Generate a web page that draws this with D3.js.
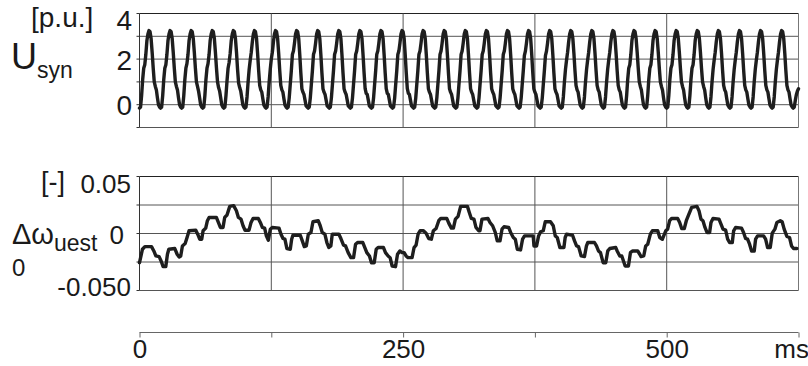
<!DOCTYPE html>
<html><head><meta charset="utf-8">
<script src="https://cdn.jsdelivr.net/npm/d3@7"></script>
<style>
body{margin:0;background:#fff}
text{font-family:"Liberation Sans",Arial,Helvetica,sans-serif;fill:#1a1a1a}
</style>
</head><body><svg id="c" width="808" height="366"></svg>
<script>
// ---------------- data ----------------
const timeDomainMs = [0, 625];
const timeTicks = [0, 125, 250, 375, 500, 625];
const timeTickLabels = ["0", "", "250", "", "500", "ms"];

// U_syn sampled every 1 ms from t = 0 (one row = one 20 ms cycle)
const usynStepMs = 1;
const usynValues = [
-0.15,-0.1,0.4,1.1,1.6,1.75,2.2,2.8,3.1,3.25,3.2,2.9,2.3,1.6,1.0,0.8,0.65,0.3,0.0,-0.1,
-0.15,-0.1,0.4,1.1,1.6,1.75,2.2,2.8,3.1,3.25,3.2,2.9,2.3,1.6,1.0,0.8,0.65,0.3,0.0,-0.1,
-0.15,-0.1,0.4,1.1,1.6,1.8,2.2,2.8,3.1,3.25,3.2,2.9,2.3,1.6,1.0,0.8,0.6,0.3,0.0,-0.1,
-0.15,-0.1,0.4,1.1,1.6,1.8,2.2,2.8,3.1,3.25,3.2,2.9,2.3,1.6,1.0,0.75,0.6,0.3,0.0,-0.1,
-0.15,-0.1,0.4,1.05,1.6,1.85,2.25,2.8,3.1,3.25,3.2,2.9,2.3,1.55,0.95,0.75,0.6,0.3,0.0,-0.1,
-0.15,-0.1,0.35,1.0,1.55,1.95,2.3,2.75,3.1,3.25,3.2,2.9,2.25,1.5,0.85,0.65,0.55,0.25,-0.02,-0.1,
-0.15,-0.1,0.35,1.0,1.55,2.0,2.3,2.75,3.1,3.25,3.2,2.9,2.25,1.5,0.85,0.65,0.55,0.25,-0.02,-0.1,
-0.15,-0.1,0.3,0.9,1.5,2.2,2.35,2.7,3.1,3.25,3.2,2.9,2.2,1.4,0.7,0.55,0.45,0.2,-0.05,-0.1,
-0.15,-0.1,0.3,0.9,1.5,2.2,2.35,2.7,3.1,3.25,3.2,2.9,2.2,1.4,0.7,0.55,0.45,0.2,-0.05,-0.1,
-0.15,-0.1,0.3,0.9,1.5,2.2,2.35,2.7,3.1,3.25,3.2,2.9,2.2,1.4,0.7,0.55,0.45,0.2,-0.05,-0.1,
-0.15,-0.1,0.3,0.9,1.5,2.2,2.35,2.7,3.1,3.25,3.2,2.9,2.2,1.4,0.7,0.5,0.45,0.2,-0.05,-0.1,
-0.15,-0.1,0.3,0.9,1.5,2.2,2.35,2.7,3.1,3.25,3.2,2.9,2.2,1.4,0.7,0.5,0.45,0.2,-0.05,-0.1,
-0.15,-0.1,0.3,0.9,1.5,2.2,2.35,2.7,3.1,3.25,3.2,2.9,2.2,1.4,0.7,0.5,0.45,0.2,-0.05,-0.1,
-0.15,-0.1,0.3,0.9,1.5,2.2,2.35,2.7,3.1,3.25,3.2,2.9,2.2,1.4,0.7,0.55,0.45,0.2,-0.05,-0.1,
-0.15,-0.1,0.3,0.9,1.5,2.2,2.35,2.7,3.1,3.25,3.2,2.9,2.2,1.4,0.7,0.55,0.45,0.2,-0.05,-0.1,
-0.15,-0.1,0.3,0.9,1.5,2.2,2.35,2.7,3.1,3.25,3.2,2.9,2.2,1.4,0.7,0.55,0.45,0.2,-0.05,-0.1,
-0.15,-0.1,0.3,0.9,1.5,2.2,2.35,2.7,3.1,3.25,3.2,2.9,2.2,1.4,0.7,0.55,0.45,0.2,-0.05,-0.1,
-0.15,-0.1,0.3,0.9,1.5,2.2,2.35,2.7,3.1,3.25,3.2,2.9,2.2,1.4,0.7,0.55,0.45,0.2,-0.05,-0.1,
-0.15,-0.1,0.3,0.9,1.5,2.15,2.35,2.7,3.1,3.25,3.2,2.9,2.2,1.4,0.7,0.55,0.45,0.2,-0.05,-0.1,
-0.15,-0.1,0.3,0.9,1.5,2.15,2.35,2.7,3.1,3.25,3.2,2.9,2.2,1.4,0.7,0.55,0.45,0.2,-0.05,-0.1,
-0.15,-0.1,0.35,1.0,1.55,1.95,2.3,2.75,3.1,3.25,3.2,2.9,2.25,1.5,0.85,0.65,0.55,0.25,-0.02,-0.1,
-0.15,-0.1,0.35,1.0,1.55,1.95,2.3,2.75,3.1,3.25,3.2,2.9,2.25,1.5,0.85,0.65,0.55,0.25,-0.02,-0.1,
-0.15,-0.1,0.35,1.0,1.55,1.95,2.3,2.75,3.1,3.25,3.2,2.9,2.25,1.5,0.85,0.65,0.55,0.25,-0.02,-0.1,
-0.15,-0.1,0.4,1.1,1.6,1.75,2.2,2.8,3.1,3.25,3.2,2.9,2.3,1.6,1.0,0.8,0.65,0.3,0.0,-0.1,
-0.15,-0.1,0.4,1.1,1.6,1.75,2.2,2.8,3.1,3.25,3.2,2.9,2.3,1.6,1.0,0.8,0.65,0.3,0.0,-0.1,
-0.15,-0.1,0.4,1.1,1.6,1.75,2.2,2.8,3.1,3.25,3.2,2.9,2.3,1.6,1.0,0.8,0.65,0.3,0.0,-0.1,
-0.15,-0.1,0.4,1.1,1.6,1.75,2.2,2.8,3.1,3.25,3.2,2.9,2.3,1.6,1.0,0.8,0.65,0.3,0.0,-0.1,
-0.15,-0.1,0.35,1.0,1.55,1.95,2.3,2.75,3.1,3.25,3.2,2.9,2.25,1.5,0.85,0.65,0.55,0.25,-0.02,-0.1,
-0.15,-0.1,0.35,1.0,1.55,1.95,2.3,2.75,3.1,3.25,3.2,2.9,2.25,1.5,0.85,0.65,0.55,0.25,-0.02,-0.1,
-0.15,-0.1,0.35,1.0,1.55,1.95,2.3,2.75,3.1,3.25,3.2,2.9,2.25,1.5,0.85,0.65,0.55,0.25,-0.02,-0.1,
-0.15,-0.1,0.35,1.0,1.55,1.95,2.3,2.75,3.1,3.25,3.2,2.9,2.25,1.5,0.85,0.65,0.55,0.25,-0.02,-0.1,
-0.15,-0.1,0.2,0.45,0.6,0.7
];
const usynGrid = [4, 3, 2, 1, 0, -1];
const usynTickValues = [4, 2, 0];
const usynTickLabels = ["4", "2", "0"];

// Δω_uest polyline vertices (time in ms, value in p.u.)
const domegaTimeMs = [
0,2.8,5.1,11.4,13.6,15.5,18.6,20.5,22.4,24.9,26.5,27.8,33.5,35.7,37.6,39.1,40.7,43.3,45.1,47.0,
53.4,55.2,57.1,59.0,60.3,62.8,64.4,66.0,72.9,74.8,76.7,79.2,80.8,83.0,85.6,89.3,91.9,93.8,96.3,98.2,
100.1,103.9,105.8,107.7,112.7,114.6,116.5,118.7,120.3,122.2,124.1,125.9,132.3,134.2,136.1,137.9,139.8,143.0,144.3,145.5,
152.5,154.4,156.3,158.2,160.1,162.6,164.5,169.5,171.4,173.3,175.8,177.7,179.6,181.5,182.8,189.1,191.0,193.5,195.4,197.9,
200.5,203.0,204.9,206.8,211.8,213.7,215.6,218.1,220.0,222.6,224.5,226.3,231.4,233.3,235.8,237.7,239.6,242.8,244.7,246.9,
249.0,251.0,252.8,254.7,258.5,260.4,262.3,264.2,266.1,269.3,271.8,274.3,276.8,278.7,281.3,283.8,285.7,291.4,293.3,295.8,
297.7,299.6,302.1,304.6,311.0,312.8,314.7,317.2,319.1,321.7,322.9,324.8,330.5,332.4,334.9,337.4,339.3,341.9,343.8,345.7,
350.1,352.0,354.5,356.4,358.3,361.4,363.3,365.2,373.4,374.1,376.6,378.5,380.4,382.9,384.8,389.8,392.4,394.3,396.2,398.7,
402.5,403.7,405.0,410.7,412.6,414.5,416.4,418.9,422.0,423.9,425.2,431.5,433.4,435.3,437.2,439.7,442.2,444.1,446.0,451.7,
453.0,455.5,457.4,460.6,463.7,465.6,467.5,472.5,474.4,475.7,478.2,480.1,482.0,484.5,486.4,491.5,493.4,495.9,499.1,500.9,
502.8,504.7,510.4,512.3,514.2,516.7,518.6,520.5,523.7,528.7,530.6,532.5,534.4,536.3,538.2,540.7,542.0,543.9,549.6,551.5,
553.4,555.9,557.8,559.7,562.2,563.5,565.4,571.0,572.9,574.8,576.7,578.6,580.5,583.0,584.3,586.2,591.9,593.8,595.7,598.2,
600.1,602.6,604.5,607.7,609.5,611.4,614.0,616.5,618.4,620.3,623.4
];
const domegaValues = [
-0.0256,-0.0138,-0.0115,-0.0115,-0.0153,-0.0197,-0.0203,-0.0241,-0.0291,-0.0291,-0.0182,-0.0138,-0.0132,-0.0182,-0.0206,-0.0197,-0.0109,-0.0088,-0.0035,0.0024,
0.0029,-0.0006,-0.0050,-0.0050,0.0024,0.0047,0.0112,0.0141,0.0141,0.0097,0.0053,0.0053,0.0141,0.0162,0.0238,0.0244,0.0200,0.0141,0.0126,0.0068,
0.0029,0.0029,0.0097,0.0132,0.0132,0.0097,0.0053,0.0047,-0.0021,-0.0059,0.0038,0.0053,0.0047,-0.0006,-0.0044,-0.0050,-0.0132,-0.0138,-0.0050,-0.0015,
-0.0015,-0.0065,-0.0115,-0.0109,-0.0006,0.0009,0.0103,0.0112,0.0068,0.0009,-0.0006,-0.0079,-0.0123,-0.0109,-0.0006,-0.0006,-0.0044,-0.0103,-0.0109,-0.0168,
-0.0212,-0.0212,-0.0094,-0.0079,-0.0079,-0.0123,-0.0168,-0.0197,-0.0256,-0.0256,-0.0138,-0.0123,-0.0123,-0.0168,-0.0197,-0.0212,-0.0285,-0.0291,-0.0182,-0.0153,
-0.0168,-0.0168,-0.0197,-0.0212,-0.0212,-0.0123,-0.0103,-0.0006,0.0024,0.0024,0.0003,-0.0044,-0.0050,0.0024,0.0044,0.0112,0.0132,0.0132,0.0091,0.0047,
0.0047,0.0126,0.0150,0.0238,0.0238,0.0185,0.0132,0.0126,0.0053,0.0024,0.0024,0.0126,0.0132,0.0097,0.0068,0.0009,-0.0065,-0.0065,0.0038,0.0059,
0.0053,0.0009,-0.0035,-0.0050,-0.0138,-0.0144,-0.0050,-0.0021,-0.0021,-0.0109,-0.0109,-0.0021,0.0015,0.0024,0.0103,0.0103,0.0068,-0.0021,-0.0035,-0.0123,
-0.0123,-0.0035,-0.0006,-0.0015,-0.0065,-0.0109,-0.0115,-0.0197,-0.0203,-0.0109,-0.0079,-0.0079,-0.0109,-0.0153,-0.0168,-0.0256,-0.0256,-0.0153,-0.0132,-0.0123,
-0.0153,-0.0197,-0.0197,-0.0285,-0.0285,-0.0168,-0.0153,-0.0153,-0.0182,-0.0203,-0.0197,-0.0109,-0.0094,-0.0006,0.0024,0.0024,-0.0035,-0.0050,0.0024,0.0038,
0.0112,0.0132,0.0132,0.0097,0.0044,0.0044,0.0112,0.0156,0.0229,0.0238,0.0200,0.0126,0.0112,0.0053,0.0009,0.0009,0.0097,0.0132,0.0126,0.0082,
0.0038,0.0029,-0.0050,-0.0079,-0.0079,0.0024,0.0053,0.0047,0.0009,-0.0044,-0.0050,-0.0094,-0.0153,-0.0153,-0.0050,-0.0021,-0.0021,-0.0050,-0.0123,-0.0123,
0.0003,0.0038,0.0097,0.0112,0.0103,0.0038,-0.0026,-0.0035,-0.0109,-0.0132,-0.0132
];
const domegaGrid = [0.05, 0.025, 0, -0.025, -0.05];
const domegaTickValues = [0.05, 0, -0.05];
const domegaTickLabels = ["0.05", "0", "-0.050"];

// ---------------- drawing ----------------
const svg = d3.select("#c");
const x = d3.scaleLinear().domain(timeDomainMs).range([139.5, 798.5]);
const yTop = d3.scaleLinear().domain([-1, 4]).range([127.5, 13.5]);
const yBot = d3.scaleLinear().domain([-0.05, 0.05]).range([290.5, 176.5]);
const gridColor = "#555";
const gridX = timeTicks.slice(1, -1);

function panel(y, gridVals) {
  const g = svg.append("g");
  g.selectAll("line.h").data(gridVals).join("line")
    .attr("x1", x.range()[0]).attr("x2", x.range()[1])
    .attr("y1", d => y(d)).attr("y2", d => y(d))
    .attr("stroke", (d, i) => i === 0 ? "#222" : gridColor).attr("stroke-width", 1);
  g.selectAll("line.v").data(gridX).join("line")
    .attr("x1", d => x(d)).attr("x2", d => x(d))
    .attr("y1", y.range()[1]).attr("y2", y.range()[0])
    .attr("stroke", gridColor).attr("stroke-width", 1);
  [x.range()[0], x.range()[1]].forEach((xx, i) => {
    g.append("line").attr("x1", xx).attr("x2", xx)
      .attr("y1", y.range()[1]).attr("y2", y.range()[0])
      .attr("stroke", i === 0 ? "#333" : "#777").attr("stroke-width", 1);
  });
  g.selectAll("line.t").data(gridVals).join("line")
    .attr("x1", x.range()[0] - 3).attr("x2", x.range()[0])
    .attr("y1", d => y(d)).attr("y2", d => y(d))
    .attr("stroke", "#333");
  return g;
}

panel(yTop, usynGrid);
panel(yBot, domegaGrid);

function clampY(y, v) {
  const top = y.range()[1], bot = y.range()[0];
  return Math.max(top + 6, Math.min(bot - 5, y(v)));
}

svg.selectAll("text.tt").data(usynTickValues).join("text")
  .attr("x", 132).attr("y", d => clampY(yTop, d) + 1)
  .attr("text-anchor", "end").attr("dominant-baseline", "central")
  .attr("font-size", 28).text((d, i) => usynTickLabels[i]);

svg.selectAll("text.tb").data(domegaTickValues).join("text")
  .attr("x", (d) => d === 0 ? 124 : 131).attr("y", d => clampY(yBot, d) + 1)
  .attr("text-anchor", "end").attr("dominant-baseline", "central")
  .attr("font-size", 26).text((d, i) => domegaTickLabels[i]);

svg.append("text").attr("x", 31).attr("y", 27).attr("font-size", 28).text("[p.u.]");
const u = svg.append("text").attr("x", 11).attr("y", 69).attr("font-size", 36);
u.append("tspan").text("U");
u.append("tspan").attr("font-size", 23).attr("dy", 9).text("syn");

svg.append("text").attr("x", 41).attr("y", 191).attr("font-size", 27).text("[-]");
const w = svg.append("text").attr("x", 12).attr("y", 244).attr("font-size", 29);
w.append("tspan").text("Δω");
w.append("tspan").attr("font-size", 23).attr("dy", 7).text("uest");
svg.append("text").attr("x", 12).attr("y", 276).attr("font-size", 24).text("0");

const usynLine = d3.line().x((d, i) => x(i * usynStepMs)).y(d => yTop(d));
svg.append("path").datum(usynValues).attr("d", usynLine)
  .attr("fill", "none").attr("stroke", "#1e1e1e").attr("stroke-width", 3.4)
  .attr("stroke-linejoin", "round").attr("stroke-linecap", "round");

const domegaLine = d3.line().x((d, i) => x(domegaTimeMs[i])).y(d => yBot(d));
svg.append("path").datum(domegaValues).attr("d", domegaLine)
  .attr("fill", "none").attr("stroke", "#1e1e1e").attr("stroke-width", 3.4)
  .attr("stroke-linejoin", "round").attr("stroke-linecap", "round");

const xAxis = d3.axisBottom(x).tickValues(timeTicks)
  .tickFormat((d, i) => timeTickLabels[i]).tickSize(5).tickPadding(2);
const ax = svg.append("g").attr("transform", "translate(0,332.5)").call(xAxis);
ax.select(".domain").attr("stroke", "#666").attr("d", `M${x.range()[0]},0H${x.range()[1]}`);
ax.selectAll(".tick line").attr("stroke", "#666");
ax.selectAll(".tick text").attr("font-size", 26)
  .attr("font-family", '"Liberation Sans",Arial,sans-serif').attr("fill", "#1a1a1a")
  .filter((d, i) => i === timeTicks.length - 1)
  .attr("text-anchor", "end").attr("x", 10);
</script>
</body></html>
